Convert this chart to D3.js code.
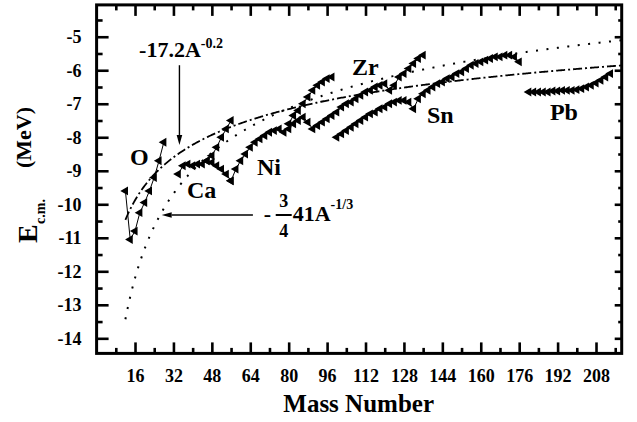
<!DOCTYPE html>
<html>
<head>
<meta charset="utf-8">
<script src="https://cdn.jsdelivr.net/npm/d3@7"></script>
<style>
  body { margin: 0; background: #fff; }
  svg { display: block; }
</style>
</head>
<body>
<svg id="chart" width="637" height="422"></svg>
<script>
// Axis ticks
const xMajorTicks = [16, 32, 48, 64, 80, 96, 112, 128, 144, 160, 176, 192, 208];
const xMinorTicks = [8, 24, 40, 56, 72, 88, 104, 120, 136, 152, 168, 184, 200, 216];
const yMajorTicks = [-14, -13, -12, -11, -10, -9, -8, -7, -6, -5];
const yMinorTicks = [-13.5, -12.5, -11.5, -10.5, -9.5, -8.5, -7.5, -6.5, -5.5, -4.5];

// Isotope chains: mass number A and energy E_c.m. (MeV)
const oA  = [12, 14, 16, 18, 20, 22, 24, 26, 28];
const oE  = [-9.6, -11.05, -10.8, -10.25, -9.95, -9.6, -9.2, -8.7, -8.15];

const caA = [34, 36, 38, 40, 42, 44, 46, 48, 50, 52, 54, 56];
const caE = [-9.1, -8.85, -8.8, -8.85, -8.8, -8.8, -8.7, -8.75, -8.85, -8.95, -9.1, -9.3];

const tiA = [46, 48, 50, 52, 54, 56];
const tiE = [-8.7, -8.55, -8.3, -8.0, -7.75, -7.5];

const niA = [56, 58, 60, 62, 64, 66, 68, 70, 72, 74, 76, 78];
const niE = [-9.3, -8.95, -8.7, -8.5, -8.3, -8.15, -8.05, -7.95, -7.85, -7.8, -7.75, -7.85];

const srA = [80, 82, 84, 86, 88, 90, 92, 94, 96, 98];
const srE = [-7.6, -7.35, -7.2, -7.0, -6.8, -6.6, -6.45, -6.35, -6.25, -6.2];

const zrA = [80, 82, 84, 86, 88, 90, 92, 94, 96, 98, 100, 102, 104, 106, 108, 110, 112, 114,
             116, 118, 120, 122, 124, 126, 128, 130, 132, 134, 136];
const zrE = [-7.75, -7.6, -7.5, -7.4, -7.55, -7.75, -7.65, -7.55, -7.45, -7.35, -7.25, -7.1, -7.0,
             -6.95, -6.85, -6.75, -6.65, -6.6, -6.5, -6.45, -6.4, -6.6, -6.45, -6.2, -6.1, -5.95,
             -5.8, -5.65, -5.55];

const snA = [100, 102, 104, 106, 108, 110, 112, 114, 116, 118, 120, 122, 124, 126, 128, 130, 132,
             134, 136, 138, 140, 142, 144, 146, 148, 150, 152, 154, 156, 158, 160, 162, 164, 166,
             168, 170, 172, 174, 176];
const snE = [-8.0, -7.9, -7.8, -7.7, -7.6, -7.5, -7.4, -7.3, -7.25, -7.15, -7.1, -7.0, -6.95, -6.9,
             -6.9, -6.95, -7.15, -6.85, -6.7, -6.6, -6.5, -6.4, -6.35, -6.25, -6.2, -6.1, -6.05,
             -5.95, -5.85, -5.8, -5.75, -5.7, -5.65, -5.6, -5.6, -5.55, -5.55, -5.6, -5.75];

const pbA = [180, 182, 184, 186, 188, 190, 192, 194, 196, 198, 200, 202, 204, 206, 208, 210, 212, 214];
const pbE = [-6.65, -6.65, -6.65, -6.65, -6.65, -6.62, -6.62, -6.6, -6.6, -6.6, -6.58, -6.55,
             -6.5, -6.45, -6.38, -6.3, -6.2, -6.1];

const chains = [
  [oA, oE], [caA, caE], [tiA, tiE], [niA, niE], [srA, srE], [zrA, zrE], [snA, snE], [pbA, pbE]
];

// Element names and where they sit (A, E)
const elementNames = ["O", "Ca", "Ni", "Zr", "Sn", "Pb"];
const elementA = [13.9, 37.6, 66.8, 106.4, 137.6, 188.8];
const elementE = [-8.83, -9.81, -9.13, -6.14, -7.58, -7.49];

// Systematics curves: E = coef * A^power
const fitCoef  = [-17.2, -0.75 * 41];
const fitPower = [-0.2, -1 / 3];
const fitStartA = 12;

const FONT = '"Liberation Serif", "Times New Roman", serif';
const svg = d3.select("#chart");

function label(sel, size) {
  return sel.style("font-family", FONT).style("font-weight", "bold")
    .style("font-size", size + "px").style("fill", "#000");
}

const x = d3.scaleLinear().domain([0, 218.7]).range([96.6, 621.7]);
const y = d3.scaleLinear().domain([-14.45, -4.05]).range([353.4, 4.9]);

// Curves
const curveA = d3.range(fitStartA, 218.7, 0.5).concat([218.7]);
const line = d3.line().x(d => x(d[0])).y(d => y(d[1]));
const dashes = ["9,3,2,3", "2,8.5"];
fitCoef.forEach((c, i) => {
  const pts = curveA.map(a => [a, c * Math.pow(a, fitPower[i])]);
  svg.append("path")
    .attr("d", line(pts))
    .attr("fill", "none")
    .attr("stroke", "#000")
    .attr("stroke-width", i === 0 ? 1.8 : 2)
    .attr("stroke-dasharray", dashes[i]);
});

// Chains: thin connecting line plus left-pointing triangles
const tri = d3.symbol().type(d3.symbolTriangle).size(34);
chains.forEach(([as, es]) => {
  const pts = as.map((a, i) => [a, es[i]]);
  svg.append("path")
    .attr("d", line(pts))
    .attr("fill", "none")
    .attr("stroke", "#000")
    .attr("stroke-width", 1);
  svg.append("g").selectAll("path")
    .data(pts)
    .join("path")
    .attr("d", tri)
    .attr("transform", d => `translate(${x(d[0])},${y(d[1])}) rotate(-90)`)
    .attr("fill", "#000");
});

// Axes
const fmt = d => String(d);
function styleAxis(g) {
  g.select(".domain").remove();
  g.selectAll(".tick line").attr("stroke", "#000").attr("stroke-width", 2.6);
  label(g.selectAll(".tick text"), 18);
}
const bottomY = y.range()[0], topY = y.range()[1];
const leftX = x.range()[0], rightX = x.range()[1];

svg.append("g").attr("transform", `translate(0,${bottomY})`)
  .call(d3.axisBottom(x).tickValues(xMajorTicks).tickSize(-11).tickPadding(16).tickFormat(fmt))
  .call(styleAxis);
svg.append("g").attr("transform", `translate(0,${bottomY})`)
  .call(d3.axisBottom(x).tickValues(xMinorTicks).tickSize(-5.5).tickFormat(""))
  .call(styleAxis);
svg.append("g").attr("transform", `translate(0,${topY})`)
  .call(d3.axisTop(x).tickValues(xMajorTicks).tickSize(-11).tickFormat(""))
  .call(styleAxis);
svg.append("g").attr("transform", `translate(0,${topY})`)
  .call(d3.axisTop(x).tickValues(xMinorTicks).tickSize(-5.5).tickFormat(""))
  .call(styleAxis);
svg.append("g").attr("transform", `translate(${leftX},0)`)
  .call(d3.axisLeft(y).tickValues(yMajorTicks).tickSize(-12).tickPadding(15).tickFormat(fmt))
  .call(styleAxis);
svg.append("g").attr("transform", `translate(${leftX},0)`)
  .call(d3.axisLeft(y).tickValues(yMinorTicks).tickSize(-6).tickFormat(""))
  .call(styleAxis);
svg.append("g").attr("transform", `translate(${rightX},0)`)
  .call(d3.axisRight(y).tickValues(yMajorTicks).tickSize(-7).tickFormat(""))
  .call(styleAxis);
svg.append("g").attr("transform", `translate(${rightX},0)`)
  .call(d3.axisRight(y).tickValues(yMinorTicks).tickSize(-3.5).tickFormat(""))
  .call(styleAxis);

// Frame
svg.append("rect")
  .attr("x", leftX).attr("y", topY)
  .attr("width", rightX - leftX).attr("height", bottomY - topY)
  .attr("fill", "none").attr("stroke", "#000").attr("stroke-width", 3);

// Axis titles
label(svg.append("text"), 25)
  .attr("x", (leftX + rightX) / 2 - 0.5).attr("y", 411.5)
  .attr("text-anchor", "middle")
  .text("Mass Number");

const yTitle = svg.append("g").attr("transform", "translate(37,243) rotate(-90)");
label(yTitle.append("text"), 28).attr("x", 0).attr("y", 0).text("E");
label(yTitle.append("text"), 14).attr("x", 19).attr("y", 8).text("c.m.");
label(yTitle.append("text"), 22).attr("x", 75).attr("y", -6).text("(MeV)");

// Element labels
elementNames.forEach((n, i) => {
  label(svg.append("text"), 24)
    .attr("x", x(elementA[i])).attr("y", y(elementE[i]))
    .text(n);
});

// Arrow helper
function arrow(x1, y1, x2, y2) {
  const ang = Math.atan2(y2 - y1, x2 - x1);
  const len = 10, half = 2.8;
  const bx = x2 - len * Math.cos(ang), by = y2 - len * Math.sin(ang);
  svg.append("line")
    .attr("x1", x1).attr("y1", y1).attr("x2", bx).attr("y2", by)
    .attr("stroke", "#000").attr("stroke-width", 1.4);
  const px = -Math.sin(ang) * half, py = Math.cos(ang) * half;
  svg.append("path")
    .attr("d", `M${x2},${y2}L${bx + px},${by + py}L${bx - px},${by - py}Z`)
    .attr("fill", "#000");
}

// -17.2 A^-0.2 label and its arrow
const f1 = label(svg.append("text"), 22).attr("x", x(17.7)).attr("y", y(-5.61));
f1.append("tspan").text("-17.2A");
f1.append("tspan").style("font-size", "14px").attr("dy", -9).text("-0.2");
arrow(x(34.5), y(-5.85), x(34.5), y(-8.23));

// -(3/4) 41 A^-1/3 label and its arrow
const fx = x(69.6), fy = y(-10.32);
label(svg.append("text"), 22).attr("x", fx).attr("y", fy + 6).text("-");
label(svg.append("text"), 18).attr("x", fx + 20).attr("y", fy - 8)
  .attr("text-anchor", "middle").text("3");
svg.append("line").attr("x1", fx + 12).attr("x2", fx + 28).attr("y1", fy).attr("y2", fy)
  .attr("stroke", "#000").attr("stroke-width", 2);
label(svg.append("text"), 18).attr("x", fx + 20).attr("y", fy + 22)
  .attr("text-anchor", "middle").text("4");
const f2 = label(svg.append("text"), 22).attr("x", fx + 29).attr("y", fy + 6);
f2.append("tspan").text("41A");
f2.append("tspan").style("font-size", "14px").attr("dy", -12).text("-1/3");
arrow(x(65.1), y(-10.32), x(27.1), y(-10.32));
</script>
</body>
</html>
